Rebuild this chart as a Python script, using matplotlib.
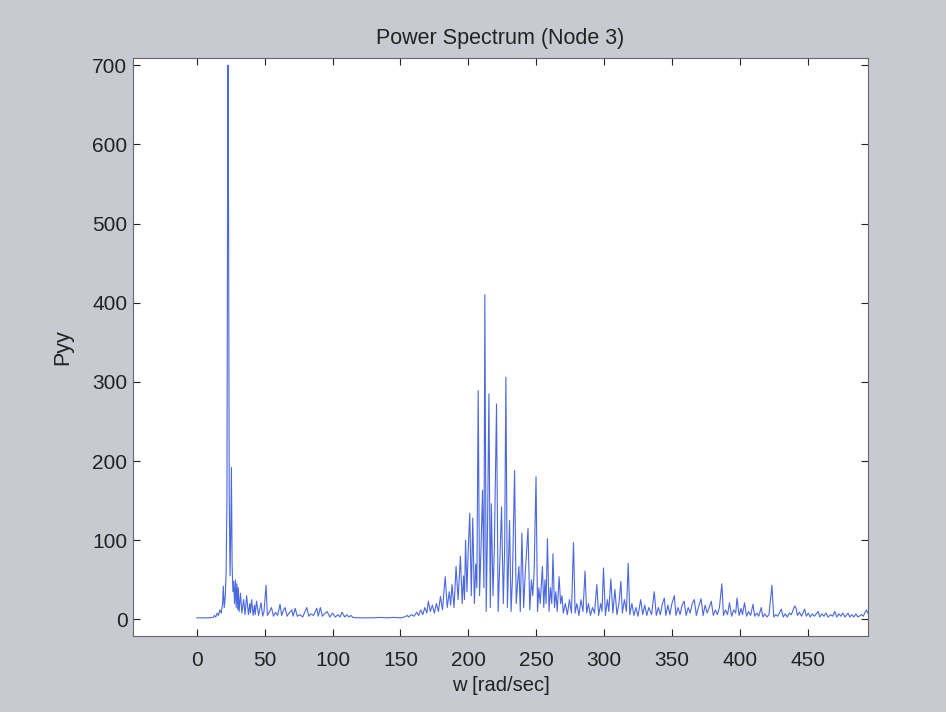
import matplotlib
matplotlib.use("Agg")
import matplotlib.pyplot as plt
import numpy as np

# ---- data ----
low_band = [
    (0, 2), (3, 2), (6, 2), (9, 2), (12, 2.5), (13, 5), (14, 3), (15, 8), (16, 5), (17, 12),
    (18, 8), (19, 20), (19.5, 42), (20.2, 15), (21, 30), (21.6, 60),
    (22.2, 150), (22.6, 480), (23.0, 700), (23.4, 510), (23.9, 150), (24.5, 55), (25.0, 110),
    (25.5, 192), (26.0, 70), (26.6, 35), (27.2, 48), (27.8, 20), (28.5, 50), (29.0, 15),
    (29.6, 45), (30.2, 12), (30.6, 40), (31.2, 10), (32.2, 33), (33.2, 8), (34.5, 25), (35.5, 6),
    (36.7, 30), (38, 6), (39, 20), (39.5, 8), (40.4, 25), (41.5, 5), (42.5, 18), (43, 6), (44, 23),
    (45.5, 5), (47.3, 21), (48.5, 4), (49.5, 10), (51, 43), (52, 5), (53, 8), (55, 15), (56.5, 4),
    (58, 9), (59.5, 5), (61.3, 19), (62.5, 5), (63.5, 10), (65, 15), (66.5, 4), (68, 8), (70, 12),
    (71, 4), (72.5, 14), (74, 4), (76, 6), (78, 3), (79.5, 9), (81, 15), (82.5, 4), (84, 7), (86, 5),
    (88.4, 14), (89.5, 4), (91, 15), (92.5, 4), (94, 7), (96, 10), (98, 3), (100, 8), (102, 3),
    (104, 6), (105.5, 3), (107, 9), (109, 3), (110.5, 6), (112, 3), (113.5, 5), (115, 2.5),
    (118, 2), (120, 2), (125, 2), (130, 2), (135, 2.5), (140, 2), (145, 2.5), (150, 2),
]

resonance_cluster = [
    (153, 3), (155, 5), (156, 3), (158, 6), (160, 4), (162, 9), (163.5, 5), (165, 12),
    (166.5, 6), (168, 15), (169.5, 8), (170.6, 23), (172, 10), (173.5, 18), (175, 8), (176.5, 20),
    (178, 10), (179.5, 29), (181, 12), (183, 54), (184.5, 15), (186, 35), (187, 18), (188, 44),
    (189.5, 15), (191, 67), (192.5, 25), (194.2, 80), (195.5, 20), (196.5, 55), (197.2, 25),
    (198, 100), (199, 35), (200, 90), (201.1, 134), (202.2, 30), (203.3, 128), (204.5, 20),
    (205.5, 70), (206.3, 40), (207.3, 289), (208.3, 30), (209.2, 80), (210.5, 163), (211.5, 40),
    (212.2, 410), (213.2, 10), (214.2, 120), (215.2, 285), (216.2, 15), (217, 146), (218.2, 30),
    (219.2, 90), (220.8, 272), (222, 10), (223, 60), (224.5, 142), (225.8, 20), (226.8, 90),
    (227.7, 306), (228.8, 15), (229.5, 60), (230.4, 125), (231.5, 10), (232.5, 50), (234.1, 188),
    (235.3, 20), (236.3, 45), (237.3, 67), (238.3, 10), (239.5, 109), (240.8, 15), (242, 60),
    (244, 115), (245.3, 12), (246.5, 50), (247.5, 30), (248.5, 60), (249.9, 180), (251, 10),
    (252, 40), (253, 20), (254.6, 67), (255.6, 15), (256.5, 50), (257.3, 20), (258.3, 102),
    (259.5, 10), (260.5, 40), (261.5, 20), (262.4, 83), (263.5, 15), (264.5, 35), (265.5, 10),
    (266.9, 54), (268, 20), (269, 30), (270, 8), (271.5, 20), (273, 6), (274.5, 25), (276, 8),
    (277.5, 97), (278.7, 8), (280, 20), (281.5, 5), (283, 25), (284.5, 10), (286, 61), (287.2, 8),
    (288.5, 20), (290, 5), (291.5, 15), (293, 8), (294.7, 44), (296, 5), (297.5, 20), (298.5, 10),
    (299.6, 65), (301, 5), (302.5, 25), (303.5, 10), (305, 51), (306.5, 8), (308, 38), (309.5, 6),
    (311, 20), (312.4, 48), (313.5, 8), (315, 25), (316.5, 10), (317.8, 71), (319, 6), (320.5, 20),
]

high_band = [
    (322, 5), (323.5, 15), (325, 4), (327, 25), (328.5, 6), (330, 18), (331.5, 5), (333, 15),
    (335, 6), (337, 35), (338.5, 5), (340, 15), (341.5, 6), (343, 20), (344.4, 27), (345.5, 5),
    (347, 18), (348.5, 6), (350, 20), (351.8, 30), (353, 5), (354.5, 15), (356, 6), (357.5, 18),
    (359, 23), (360.5, 5), (362, 15), (363.5, 8), (365, 20), (366.5, 25), (368, 5), (369.5, 15),
    (371.5, 26), (373, 5), (374.5, 18), (376, 8), (377.5, 15), (379, 23), (380.5, 5), (382, 12),
    (383.5, 6), (385, 15), (386.8, 45), (388, 5), (389.5, 12), (391, 6), (392.4, 21), (394, 4),
    (395.5, 12), (397, 8), (398, 27), (399.5, 5), (401, 14), (402, 6), (403.5, 21), (405, 4),
    (406.5, 10), (408, 5), (409.7, 19), (411, 4), (412.5, 8), (414, 4), (415.8, 15), (417, 3),
    (418.5, 7), (420, 3), (421.5, 6), (423.7, 43), (425, 3), (426.5, 6), (428, 4), (430.6, 13),
    (432, 3), (433.5, 7), (435, 3), (436.5, 8), (438, 6), (440.4, 17), (441.5, 14), (442.5, 5),
    (444, 9), (445.5, 4), (447.8, 13), (449, 4), (450.5, 8), (452, 3), (453.5, 7), (455, 4),
    (457.7, 10), (459, 3), (460.5, 7), (462, 4), (463.5, 8), (465, 3), (467, 6), (468.5, 4),
    (470, 10), (471.5, 3), (473, 7), (474.5, 4), (476, 8), (477.5, 3), (479.8, 8), (481, 3),
    (482.5, 6), (484, 3), (485.5, 7), (487, 3), (489.7, 6), (491, 4), (492.3, 9), (493.4, 12),
    (494.2, 8),
]

x_ticks = [0, 50, 100, 150, 200, 250, 300, 350, 400, 450]
y_ticks = [0, 100, 200, 300, 400, 500, 600, 700]

title_text = "Power Spectrum (Node 3)"
x_label = "w [rad/sec]"
y_label = "Pyy"

# ---- plot ----
points = low_band + resonance_cluster + high_band
w = np.array([p[0] for p in points])
pyy = np.array([p[1] for p in points])

plt.rcParams['font.family'] = ['Liberation Sans', 'DejaVu Sans']

fig = plt.figure(figsize=(9.46, 7.12), dpi=100)
fig.patch.set_facecolor('#c7cbd1')
ax = fig.add_axes([0.1406, 0.1067, 0.777, 0.8118])
ax.set_facecolor('white')

ax.plot(w, pyy, color='#4a68e0', linewidth=0.8)

ax.set_xlim(-47, 494.5)
ax.set_ylim(-21, 709)
ax.set_xticks(x_ticks)
ax.set_yticks(y_ticks)
ax.tick_params(direction='in', length=5, width=0.8, top=True, right=True,
               labelsize=15, colors='#222222')
ax.tick_params(axis='x', pad=11)
ax.tick_params(axis='y', pad=4)
for s in ax.spines.values():
    s.set_color('#666666')
    s.set_linewidth(0.8)

ax.set_title(title_text, fontsize=15.5, color='#222222', pad=10)
ax.set_xlabel(x_label, fontsize=14.5, color='#222222', labelpad=4)
ax.set_ylabel(y_label, fontsize=15.5, color='#222222', labelpad=14)

fig.savefig('out.png', dpi=100, facecolor=fig.get_facecolor())
